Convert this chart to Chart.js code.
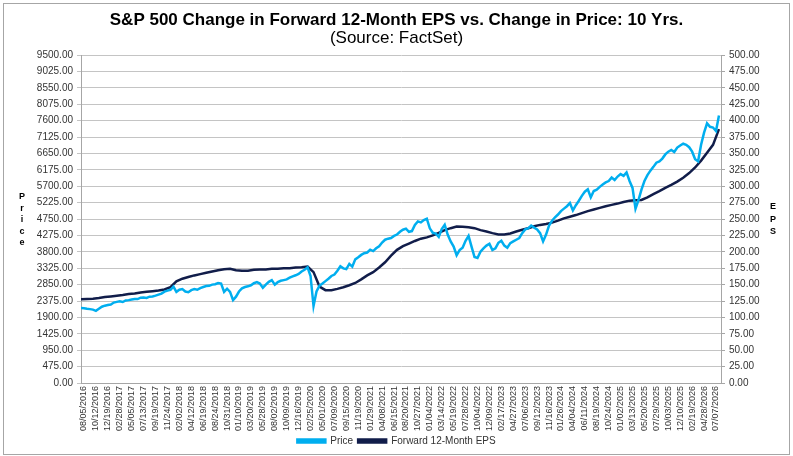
<!DOCTYPE html>
<html>
<head>
<meta charset="utf-8">
<script src="https://cdn.jsdelivr.net/npm/chart.js@4.4.1/dist/chart.umd.min.js"></script>
<style>
  html, body { margin: 0; padding: 0; background: #fff; }
  canvas { display: block; }
</style>
</head>
<body>
<canvas id="epsChart" width="793" height="456"></canvas>
<script>
'use strict'

/*-----Data-----*/
var dateLabels = ['08/05/2016', '10/12/2016', '12/19/2016', '02/28/2017', '05/05/2017', '07/13/2017',
	'09/19/2017', '11/24/2017', '02/02/2018', '04/12/2018', '06/19/2018', '08/24/2018', '10/31/2018',
	'01/10/2019', '03/20/2019', '05/28/2019', '08/02/2019', '10/09/2019', '12/16/2019', '02/25/2020',
	'05/01/2020', '07/09/2020', '09/15/2020', '11/19/2020', '01/29/2021', '04/08/2021', '06/15/2021',
	'08/20/2021', '10/27/2021', '01/04/2022', '03/14/2022', '05/19/2022', '07/28/2022', '10/04/2022',
	'12/09/2022', '02/17/2023', '04/27/2023', '07/06/2023', '09/12/2023', '11/16/2023', '01/26/2024',
	'04/04/2024', '06/11/2024', '08/19/2024', '10/24/2024', '01/02/2025', '03/13/2025', '05/20/2025',
	'07/29/2025', '10/03/2025', '12/10/2025', '02/19/2026', '04/28/2026', '07/07/2026'];

// price sampled every quarter of a date-label interval, starting a quarter before the first label
var priceStart = -0.25;
var priceStep = 0.25;
var priceValues = [2170, 2165, 2150, 2140, 2125, 2090, 2150, 2210, 2240, 2260, 2275, 2330, 2350, 2365, 2345, 2390,
	2400, 2420, 2435, 2430, 2470, 2475, 2465, 2500, 2505, 2530, 2560, 2590, 2645, 2675, 2700, 2790,
	2640, 2700, 2720, 2650, 2630, 2690, 2720, 2700, 2750, 2780, 2810, 2815, 2850, 2860, 2895, 2880,
	2640, 2730, 2640, 2400, 2500, 2650, 2740, 2780, 2800, 2830, 2890, 2920, 2880, 2760, 2850, 2930,
	2980, 2850, 2920, 2960, 2980, 3000, 3050, 3090, 3120, 3160, 3230, 3280, 3350, 3100, 2230, 2650,
	2820, 2880, 2950, 3020, 3100, 3140, 3250, 3380, 3320, 3300, 3450, 3370, 3580, 3640, 3710, 3760,
	3780, 3860, 3820, 3900, 3960, 4070, 4150, 4180, 4200, 4260, 4300, 4380, 4440, 4470, 4380, 4400,
	4580, 4680, 4650, 4720, 4760, 4480, 4350, 4330, 4230, 4460, 4580, 4300, 4100, 3950, 3700, 3850,
	3920, 4120, 4260, 3950, 3650, 3620, 3800, 3900, 3980, 4030, 3850, 3900, 4060, 4120, 3980, 3920,
	4050, 4100, 4150, 4200, 4340, 4450, 4480, 4560, 4500, 4450, 4340, 4100, 4300, 4560, 4700, 4800,
	4880, 4980, 5050, 5120, 5210, 5000, 5150, 5280, 5420, 5540, 5610, 5380, 5560, 5600, 5680, 5750,
	5810, 5850, 5950, 5880, 5980, 6050, 6000, 6100, 5850, 5650, 5050, 5300, 5600, 5850, 6020, 6150,
	6260, 6380, 6420, 6500, 6620, 6700, 6750, 6690, 6820, 6880, 6930, 6900, 6830, 6700, 6480, 6420,
	6900, 7250, 7520, 7420, 7400, 7300, 7750];

// forward EPS sampled every half interval
var epsStart = -0.25;
var epsStep = 0.5;
var epsValues = [127.5, 128, 128.5, 129.5, 131, 132, 133, 134, 135.5, 136.5, 138, 139, 140, 141, 142.5, 146,
	155, 159, 161.5, 164, 166, 168, 170, 172, 173.5, 174, 172, 171, 171, 172.5, 173, 173,
	174, 174, 175, 175, 176, 176.5, 177.5, 169, 147, 141.5, 141.5, 143.5, 146, 149, 152.5, 158,
	164, 169, 176, 184, 194, 203, 208.5, 212.5, 216.5, 220, 222, 225, 229, 233, 236, 238.5,
	238, 237.5, 236, 233, 231, 228.5, 226.5, 226.5, 228, 231, 233.5, 236, 239, 241, 242.5, 244.5,
	247.5, 251, 253.5, 256, 259, 262, 264.5, 267, 269.5, 271.5, 273.5, 276, 278, 278.5, 279, 283,
	288, 292.5, 297.5, 302, 307, 313, 320, 328.5, 339, 351, 363, 387];

var priceAxisMax = 9500, priceAxisStep = 475;
var epsAxisMax = 500, epsAxisStep = 25;

var FONT = 'Arial, "Liberation Sans", sans-serif';

function toPoints(start, step, values) {
	return values.map(function(v, i) {
		return { x: start + i * step, y: v };
	});
}

/*-----Frame and stacked axis titles-----*/
var decorPlugin = {
	id: 'decor',
	beforeDraw: function(chart) {
		var c = chart.ctx;
		c.save();
		c.fillStyle = '#ffffff';
		c.fillRect(0, 0, chart.width, chart.height);
		c.restore();
	},
	afterDraw: function(chart) {
		var c = chart.ctx;
		c.save();
		c.strokeStyle = '#a6a6a6';
		c.lineWidth = 1;
		c.strokeRect(3.5, 3.5, 786, 451);
		c.fillStyle = '#000000';
		c.font = 'bold 9px ' + FONT;
		c.textAlign = 'center';
		c.textBaseline = 'middle';
		'Price'.split('').forEach(function(ch, i) {
			c.fillText(ch, 22, 197 + i * 11.5);
		});
		'EPS'.split('').forEach(function(ch, i) {
			c.fillText(ch, 773, 207 + i * 12.5);
		});
		c.restore();
	}
};

var ctx = document.getElementById('epsChart');
var myChart = new Chart(ctx, {
	type: 'line',
	data: {
		datasets: [{
			label: 'Price',
			data: toPoints(priceStart, priceStep, priceValues),
			yAxisID: 'y',
			borderColor: '#00aeef',
			backgroundColor: '#00aeef',
			borderWidth: 2.5,
			pointRadius: 0,
			tension: 0
		}, {
			label: 'Forward 12-Month EPS',
			data: toPoints(epsStart, epsStep, epsValues),
			yAxisID: 'y1',
			borderColor: '#111d4a',
			backgroundColor: '#111d4a',
			borderWidth: 2.5,
			pointRadius: 0,
			tension: 0
		}]
	},
	options: {
		responsive: false,
		animation: false,
		events: [],
		layout: { padding: 0 },
		plugins: {
			title: {
				display: true,
				text: 'S&P 500 Change in Forward 12-Month EPS vs. Change in Price: 10 Yrs.',
				color: '#000',
				font: { family: FONT, size: 17, weight: 'bold', lineHeight: 1 },
				padding: { top: 12, bottom: 0 }
			},
			subtitle: {
				display: true,
				text: '(Source: FactSet)',
				color: '#000',
				font: { family: FONT, size: 17, lineHeight: 1 },
				padding: { top: 1, bottom: 8 }
			},
			legend: {
				position: 'bottom',
				labels: {
					boxWidth: 28,
					boxHeight: 3,
					padding: 5,
					color: '#333',
					font: { family: FONT, size: 10 }
				}
			},
			tooltip: { enabled: false }
		},
		scales: {
			x: {
				type: 'linear',
				min: -0.25,
				max: 53.42,
				afterBuildTicks: function(scale) {
					scale.ticks = dateLabels.map(function(d, i) { return { value: i }; });
				},
				afterFit: function(scale) { scale.height = 48; },
				grid: { drawOnChartArea: false, drawTicks: false },
				border: { color: '#a6a6a6' },
				ticks: {
					autoSkip: false,
					minRotation: 90,
					maxRotation: 90,
					padding: 3,
					color: '#333',
					font: { family: FONT, size: 9 },
					callback: function(v) { return dateLabels[v]; }
				}
			},
			y: {
				position: 'left',
				min: 0,
				max: priceAxisMax,
				afterFit: function(scale) { scale.width = 81; },
				grid: { color: '#c4c4c4', tickLength: 4 },
				border: { color: '#a6a6a6' },
				ticks: {
					stepSize: priceAxisStep,
					padding: 4,
					color: '#333',
					font: { family: FONT, size: 10 },
					callback: function(v) { return v.toFixed(2); }
				}
			},
			y1: {
				position: 'right',
				min: 0,
				max: epsAxisMax,
				afterFit: function(scale) { scale.width = 72; },
				grid: { drawOnChartArea: false, color: '#a6a6a6', tickLength: 4 },
				border: { color: '#a6a6a6' },
				ticks: {
					stepSize: epsAxisStep,
					padding: 4,
					color: '#333',
					font: { family: FONT, size: 10 },
					callback: function(v) { return v.toFixed(2); }
				}
			}
		}
	},
	plugins: [decorPlugin]
});
</script>
</body>
</html>
